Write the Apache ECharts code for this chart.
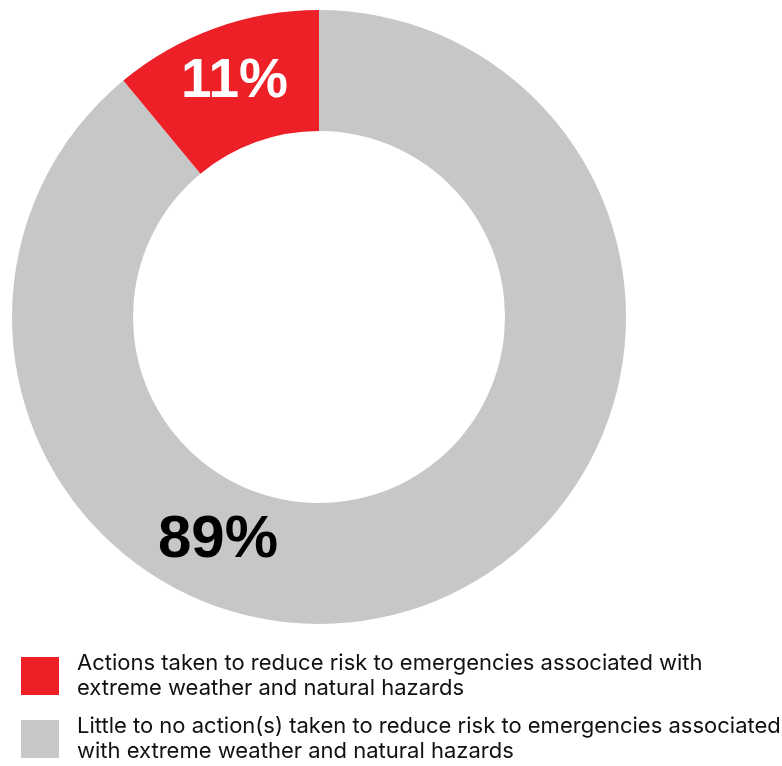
<!DOCTYPE html>
<html>
<head>
<meta charset="utf-8">
<script src="https://cdn.jsdelivr.net/npm/echarts@6/dist/echarts.min.js"></script>
<style>
  html, body { margin: 0; padding: 0; background: #fff; }
  #chart { width: 782px; height: 766px; }
</style>
</head>
<body>
<div id="chart"></div>
<script>
// Share of responses (percent)
const categories = [
  'Little to no action(s) taken to reduce risk to emergencies associated\nwith extreme weather and natural hazards',
  'Actions taken to reduce risk to emergencies associated with\nextreme weather and natural hazards'
];
const values = [89, 11];
const colors = ['#C6C7C8', '#ED1F27'];
const labelColors = ['#000000', '#FFFFFF'];
const labelSizes = [60, 55];

const chart = echarts.init(document.getElementById('chart'), null, { renderer: 'canvas' });

const data = categories.map((name, i) => ({
  name,
  value: values[i],
  itemStyle: { color: colors[i] },
  label: { color: labelColors[i], fontSize: labelSizes[i] }
}));

chart.setOption({
  animation: false,
  legend: {
    orient: 'vertical',
    left: 21,
    top: 651,
    padding: 0,
    itemWidth: 38,
    itemHeight: 38,
    itemGap: 13,
    icon: 'rect',
    data: [categories[1], categories[0]],
    textStyle: {
      fontFamily: 'Inter, Liberation Sans, Arial, sans-serif',
      fontSize: 22,
      lineHeight: 25,
      color: '#111',
      padding: [0, 0, 0, 13]
    }
  },
  series: [{
    type: 'pie',
    center: [319, 317],
    radius: [186, 307],
    startAngle: 90,
    clockwise: true,
    silent: true,
    labelLine: { show: false },
    label: {
      show: true,
      position: 'inside',
      formatter: '{c}%',
      fontFamily: 'Liberation Sans, Arial, sans-serif',
      fontWeight: 'bold',
      letterSpacing: -2
    },
    labelLayout: function (params) {
      if (params.dataIndex === 0) {
        return { x: 218, y: 540, align: 'center', verticalAlign: 'middle' };
      }
      return {};
    },
    data
  }]
});
</script>
</body>
</html>
